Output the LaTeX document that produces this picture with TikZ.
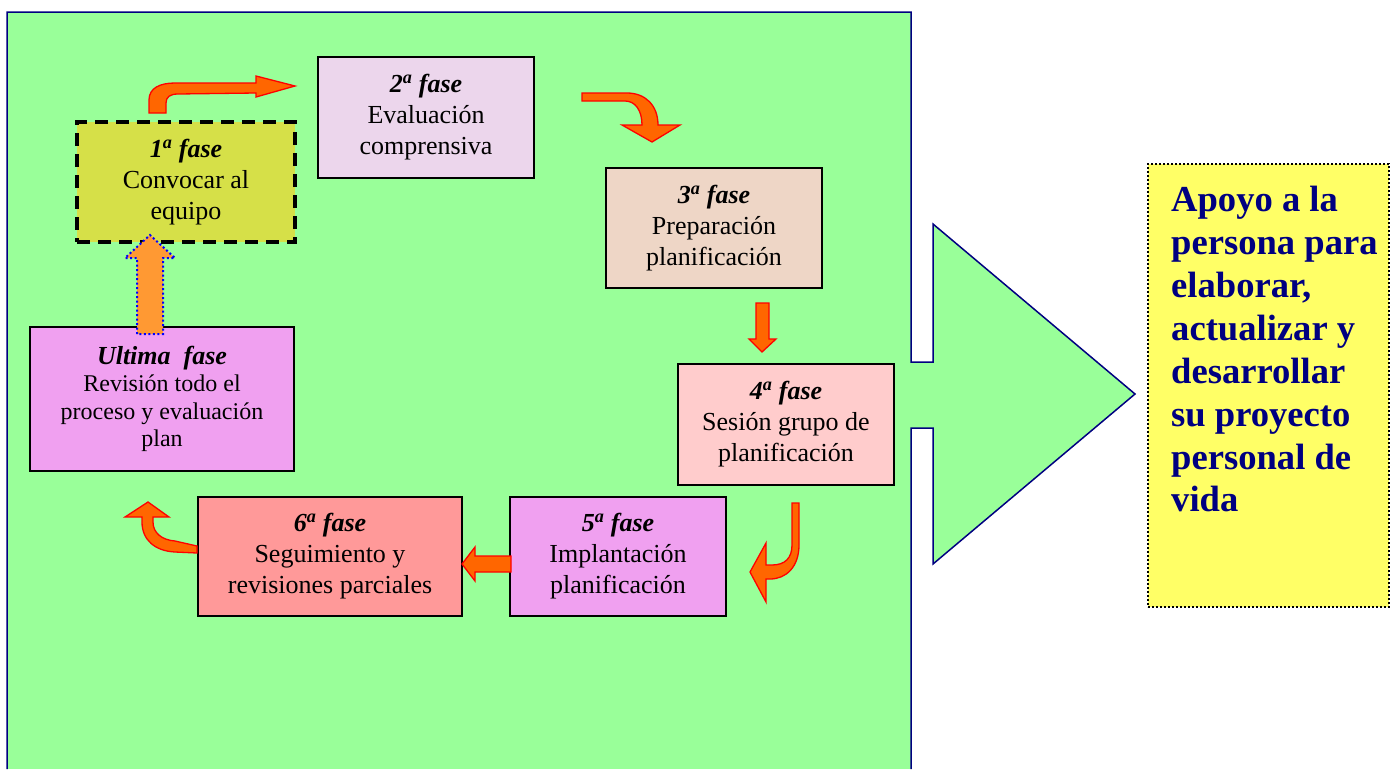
\documentclass[tikz,border=0pt]{standalone}
\usepackage{fontspec}
\setmainfont{Liberation Serif}
\definecolor{panelgreen}{RGB}{153,255,153}
\definecolor{navyline}{RGB}{0,0,128}
\definecolor{c1}{RGB}{214,224,72}
\definecolor{c2}{RGB}{236,214,236}
\definecolor{c3}{RGB}{238,214,198}
\definecolor{c4}{RGB}{255,204,204}
\definecolor{c5}{RGB}{240,160,240}
\definecolor{c6}{RGB}{255,153,153}
\definecolor{arrfill}{RGB}{255,102,0}
\definecolor{uparr}{RGB}{255,153,51}
\definecolor{goalfill}{RGB}{255,255,102}
\tikzset{
  phase/.style={draw=black, line width=1.5pt, inner sep=0pt, outer sep=0pt, align=center,
    font=\fontsize{26}{31}\selectfont},
  flowarrow/.style={fill=arrfill, draw=red, line width=1.3pt, line join=miter},
}
\newcommand{\fasetitle}[1]{\textbf{\textit{#1\textsuperscript{a} fase}}}
\begin{document}
\begin{tikzpicture}[x=1pt,y=-1pt]
\useasboundingbox (0,0) rectangle (1395,769);
% panel
\fill[panelgreen] (7,12) rectangle (911,769);
\fill[panelgreen] (905,362) -- (933,362) -- (933,224) -- (1135,394) -- (933,564) -- (933,428) -- (905,428) -- cycle;
\draw[navyline, line width=1.5pt] (7,769) -- (7,12) -- (911,12) -- (911,362) -- (933,362) -- (933,224) -- (1135,394) -- (933,564) -- (933,428) -- (911,428) -- (911,769);
% goal box
\node[draw=black, fill=goalfill, line width=2pt, dash pattern=on 2pt off 2pt,
  minimum width=241pt, minimum height=443pt, inner sep=0pt] (goal) at (1268.5,385.5) {};
\node[anchor=north west, inner sep=0pt, align=left, text=navyline,
  font=\fontsize{36.6}{42.9}\selectfont\bfseries] (goaltext) at (1171,186)
  {Apoyo a la\\persona para\\elaborar,\\actualizar y\\desarrollar\\su proyecto\\personal de\\vida};
% phase boxes
\node[phase, fill=c1, line width=3.5pt, dash pattern=on 13pt off 8pt, minimum width=218pt, minimum height=120pt] (f1) at (186,182)
  {\fasetitle{1}\\Convocar al\\equipo};
\node[phase, fill=c2, minimum width=216pt, minimum height=121pt] (f2) at (426,117.5)
  {\fasetitle{2}\\Evaluación\\comprensiva};
\node[phase, fill=c3, minimum width=216pt, minimum height=120pt] (f3) at (714,228)
  {\fasetitle{3}\\Preparación\\planificación};
\node[phase, fill=c4, minimum width=216pt, minimum height=121pt] (f4) at (786,424.5)
  {\fasetitle{4}\\Sesión grupo de\\planificación};
\node[phase, fill=c5, minimum width=216pt, minimum height=119pt] (f5) at (618,556.5)
  {\fasetitle{5}\\Implantación\\planificación};
\node[phase, fill=c6, minimum width=264pt, minimum height=119pt] (f6) at (330,556.5)
  {\fasetitle{6}\\Seguimiento y\\revisiones parciales};
\node[phase, fill=c5, minimum width=264pt, minimum height=144pt, font=\fontsize{24}{27.5}\selectfont] (fu) at (162,399)
  {{\fontsize{26}{27.5}\selectfont\textbf{\textit{Ultima\ \ fase}}}\\Revisión todo el\\proceso y evaluación\\plan};
% arrows
\draw[flowarrow] (149,113) -- (149,100) .. controls (149,88) and (160,83) .. (175,83) -- (256,83) -- (256,76) -- (295,86) -- (256,97) -- (256,93) -- (178,94) .. controls (170,94) and (166,97) .. (166,103) -- (166,113) -- cycle;
\draw[flowarrow] (582,93) -- (627,93) .. controls (645,93) and (658,105) .. (658,125) -- (680,125) -- (652,142) -- (622,125) -- (642,125) .. controls (642,110) and (635,101) .. (625,101) -- (582,101) -- cycle;
\draw[flowarrow] (756,303) -- (769,303) -- (769,339) -- (776,339) -- (762,352) -- (749,339) -- (756,339) -- cycle;
\draw[flowarrow] (792,503) -- (799,503) -- (799,545) .. controls (799,567) and (786,579) .. (770,579) -- (766,579) -- (766,602) -- (750,572) -- (766,543) -- (766,565) -- (772,565) .. controls (785,565) and (792,558) .. (792,545) -- cycle;
\draw[flowarrow] (511,556) -- (475,556) -- (475,547) -- (462,564) -- (475,581) -- (475,572) -- (511,572) -- cycle;
\draw[flowarrow] (197,546) -- (197,553) -- (175,552) .. controls (155,551) and (142,540) .. (142,522) -- (142,517) -- (125,517) -- (148,502) -- (169,517) -- (153,517) -- (153,522) .. controls (153,533) and (162,540) .. (175,541) -- cycle;
\draw[fill=uparr, draw=blue, line width=2pt, dash pattern=on 2pt off 2.5pt] (137,334) -- (137,258) -- (125,258) -- (150,235) -- (175,258) -- (163,258) -- (163,334) -- cycle;
\end{tikzpicture}
\end{document}
